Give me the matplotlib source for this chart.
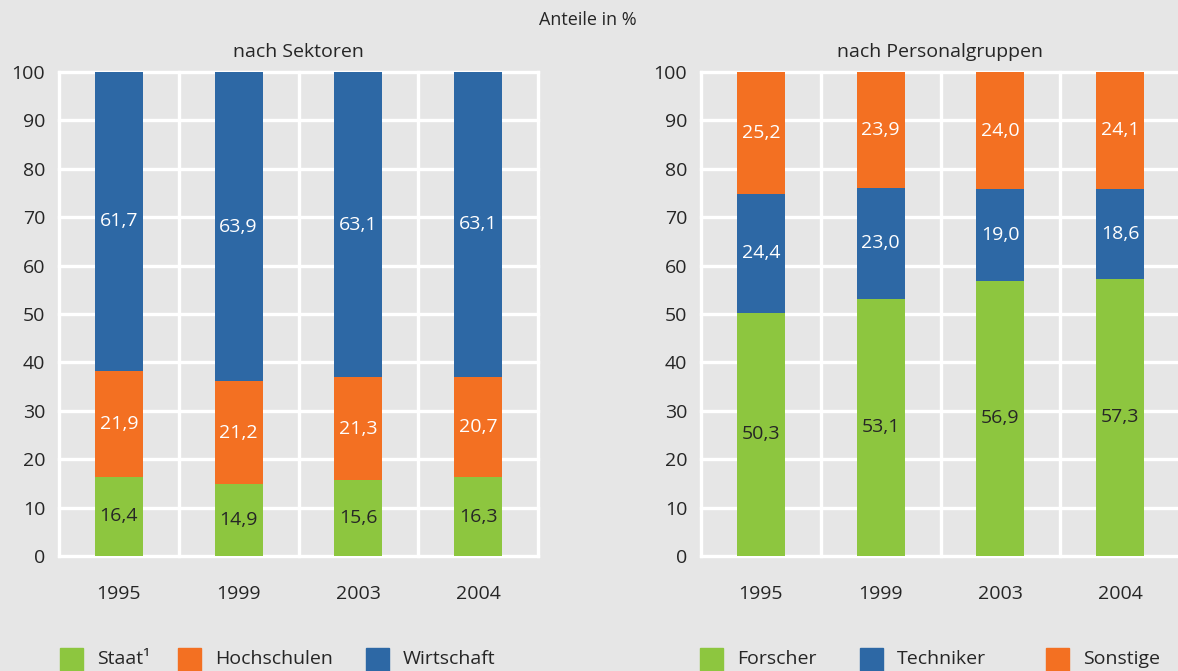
import matplotlib.pyplot as plt
from matplotlib.patches import Rectangle
import numpy as np

plt.rcParams["font.family"] = ["Open Sans", "DejaVu Sans"]

# Anteile in %
jahre = ["1995", "1999", "2003", "2004"]

staat = [16.4, 14.9, 15.6, 16.3]
hochschulen = [21.9, 21.2, 21.3, 20.7]
wirtschaft = [61.7, 63.9, 63.1, 63.1]

forscher = [50.3, 53.1, 56.9, 57.3]
techniker = [24.4, 23.0, 19.0, 18.6]
sonstige = [25.2, 23.9, 24.0, 24.1]

GRUEN = "#8dc63f"
ORANGE = "#f37022"
BLAU = "#2d68a5"
BG = "#e6e6e6"
TXT = "#262626"

W, H = 1178, 671
fig = plt.figure(figsize=(W / 100, H / 100), dpi=100, facecolor=BG)


def box(x0, y0, x1, y1):
    # Pixelkoordinaten (oben links) -> Figurenkoordinaten
    return [x0 / W, 1 - y1 / H, (x1 - x0) / W, (y1 - y0) / H]


def stapel(ax, serien, farben, textfarben):
    x = np.arange(len(jahre))
    ax.set_facecolor(BG)
    ax.set_xlim(-0.5, 3.5)
    ax.set_ylim(0, 100)
    for s in ax.spines.values():
        s.set_visible(False)
    for y in range(0, 101, 10):
        ax.axhline(y, color="white", lw=2.4, zorder=0, clip_on=False)
    for xv in np.arange(-0.5, 4, 1):
        ax.axvline(xv, color="white", lw=2.4, zorder=0, clip_on=False)
    unten = np.zeros(len(jahre))
    for werte, farbe, tf in zip(serien, farben, textfarben):
        werte = np.array(werte)
        ax.bar(x, werte, 0.4, bottom=unten, color=farbe, zorder=2)
        for xi, b, v in zip(x, unten, werte):
            ax.text(xi, b + v / 2, f"{v:.1f}".replace(".", ","), ha="center",
                    va="center", color=tf, fontsize=14, zorder=3)
        unten = unten + werte
    ax.set_yticks(range(0, 101, 10))
    ax.set_xticks(x)
    ax.set_xticklabels(jahre)
    ax.tick_params(length=0, labelsize=14, labelcolor=TXT)
    ax.tick_params(axis="y", pad=10)
    ax.tick_params(axis="x", pad=21)


ax1 = fig.add_axes(box(59, 72, 538, 556))
stapel(ax1, [staat, hochschulen, wirtschaft], [GRUEN, ORANGE, BLAU],
       [TXT, "white", "white"])

ax2 = fig.add_axes(box(701, 72, 1180, 556))
stapel(ax2, [forscher, techniker, sonstige], [GRUEN, BLAU, ORANGE],
       [TXT, "white", "white"])

fig.text(588 / W, 1 - 20 / H, "Anteile in %", ha="center", va="center",
         fontsize=13, color=TXT)
fig.text(298 / W, 1 - 52 / H, "nach Sektoren", ha="center", va="center",
         fontsize=14, color=TXT)
fig.text(940 / W, 1 - 52 / H, "nach Personalgruppen", ha="center",
         va="center", fontsize=14, color=TXT)

# Legenden
legende = [
    (60, GRUEN, "Staat¹"), (178, ORANGE, "Hochschulen"), (366, BLAU, "Wirtschaft"),
    (700, GRUEN, "Forscher"), (860, BLAU, "Techniker"), (1046, ORANGE, "Sonstige"),
]
for x0, farbe, name in legende:
    fig.patches.append(Rectangle((x0 / W, 0), 23 / W, 23 / H, color=farbe,
                                 transform=fig.transFigure))
    fig.text((x0 + 37) / W, 1 - 659 / H, name, ha="left", va="center",
             fontsize=14, color=TXT)

fig.savefig("out.png", dpi=100, facecolor=BG)
